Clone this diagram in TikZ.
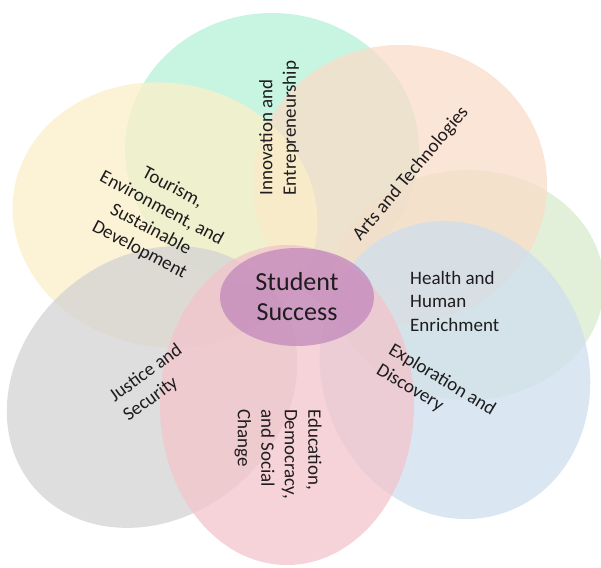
\documentclass[tikz,border=0pt]{standalone}
\usepackage{fontspec}
\setmainfont{Carlito}
\usetikzlibrary{shapes.geometric, positioning}

\definecolor{mintpetal}{RGB}{182,240,216}
\definecolor{peachpetal}{RGB}{250,220,200}
\definecolor{greenpetal}{RGB}{216,235,204}
\definecolor{bluepetal}{RGB}{206,223,239}
\definecolor{pinkpetal}{RGB}{243,196,203}
\definecolor{graypetal}{RGB}{211,211,211}
\definecolor{yellowpetal}{RGB}{251,239,200}
\definecolor{hubpurple}{RGB}{194,136,188}
\definecolor{labelgray}{RGB}{30,28,30}

\tikzset{
	petal/.style={ellipse, draw=none, inner sep=0pt, fill opacity=0.75}
}
\tikzset{
	petaltext/.style={font=\fontsize{19}{23.5}\selectfont, text=labelgray, inner sep=0pt}
}

\begin{document}
\begin{tikzpicture}[x=1pt, y=1pt]

  \useasboundingbox (0,0) rectangle (601,567);

  % the seven petals
  \node[petal, fill=mintpetal, minimum width=294, minimum height=274] (innov) at (272,417) {};
  \node[petal, fill=greenpetal, minimum width=272, minimum height=230] (health) at (468,282) {};
  \node[petal, fill=peachpetal, minimum width=294, minimum height=280] (arts) at (400,382) {};
  \node[petal, fill=yellowpetal, minimum width=306, minimum height=264, rotate=-10] (tourism) at (165,352) {};
  \node[petal, fill=graypetal, minimum width=310, minimum height=260, rotate=40] (justice) at (152,180) {};
  \node[petal, fill=bluepetal, minimum width=266, minimum height=302, rotate=20] (explore) at (455,197) {};
  \node[petal, fill=pinkpetal, minimum width=254, minimum height=320] (educ) at (287,162) {};

  % hub
  \node[petal, fill=hubpurple, minimum width=154, minimum height=98] (hub) at (297,270) {};
  \node[font=\fontsize{26}{30}\selectfont, text=labelgray, align=center] (hubtext) at (hub) {Student\\Success};

  % petal labels
  \node[petaltext, align=left, rotate=90] (innovtext) at (279,439) {Innovation and\\Entrepreneurship};
  \node[petaltext, rotate=50] (artstext) at (411,393) {Arts and Technologies};
  \node[petaltext, align=left, anchor=west] (healthtext) at (410,266) {Health and\\Human\\Enrichment};
  \node[petaltext, align=left, rotate=-31] (exploretext) at (436,177) {Exploration and\\Discovery};
  \node[petaltext, align=left, rotate=-90] (eductext) at (278,113) {Education,\\Democracy,\\and Social\\Change};
  \node[petaltext, align=left, rotate=36] (justicetext) at (153,184) {Justice and\\Security};
  \node[petaltext, align=center, rotate=-28] (tourismtext) at (156,348) {Tourism,\\Environment, and\\Sustainable\\Development};

\end{tikzpicture}
\end{document}
